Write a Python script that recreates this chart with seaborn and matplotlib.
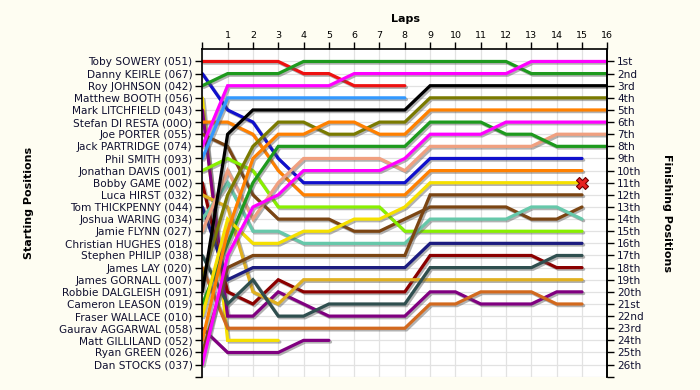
import seaborn as sns
import matplotlib
matplotlib.use("Agg")
import matplotlib.pyplot as plt
import matplotlib.patheffects as pe
import pandas as pd

# starting grid, top to bottom
drivers = ["Toby SOWERY (051)", "Danny KEIRLE (067)", "Roy JOHNSON (042)", "Matthew BOOTH (056)",
           "Mark LITCHFIELD (043)", "Stefan DI RESTA (00O)", "Joe PORTER (055)", "Jack PARTRIDGE (074)",
           "Phil SMITH (093)", "Jonathan DAVIS (001)", "Bobby GAME (002)", "Luca HIRST (032)",
           "Tom THICKPENNY (044)", "Joshua WARING (034)", "Jamie FLYNN (027)", "Christian HUGHES (018)",
           "Stephen PHILIP (038)", "James LAY (020)", "James GORNALL (007)", "Robbie DALGLEISH (091)",
           "Cameron LEASON (019)", "Fraser WALLACE (010)", "Gaurav AGGARWAL (058)", "Matt GILLILAND (052)",
           "Ryan GREEN (026)", "Dan STOCKS (037)"]

colours = ["#ee1111", "#1010cc", "#1e9a1e", "#f5e000", "#800080", "#ff8000", "#7b4513", "#ff00ff",
           "#3399ff", "#88f000", "#8b0000", "#e0b020", "#1c1c80", "#66c8aa", "#f0a080", "#888888",
           "#2f4f4f", "#d2691e", "#7a7a00", "#000000", "#1e9a1e", "#f5e000", "#800080", "#ff8000",
           "#7b4513", "#ff00ff"]

# position at end of each lap (lap 0 = grid)
sowery = [1, 1, 1, 1, 2, 2, 3, 3, 3]
keirle = [2, 5, 6, 9, 11, 11, 11, 11, 11, 9, 9, 9, 9, 9, 9, 9]
johnson = [3, 2, 2, 2, 1, 1, 1, 1, 1, 1, 1, 1, 1, 2, 2, 2, 2]
booth = [4, 24, 24, 24]
litchfield = [5, 22, 22, 20, 21, 22, 22, 22, 22, 20, 20, 21, 21, 21, 20, 20]
di_resta = [6, 6, 7, 10, 12, 12, 12, 12, 12, 10, 10, 10, 10, 10, 10, 10]
porter = [7, 8, 12, 14, 14, 14, 15, 15, 14, 13, 13, 13, 13, 14, 14, 13]
partridge = [8, 3, 3, 3, 3, 3, 2, 2, 2, 2, 2, 2, 2, 1, 1, 1, 1]
smith = [9, 4, 4, 4, 4, 4, 4, 4, 4]
davis = [10, 9, 10, 13, 13, 13, 13, 13, 15, 15, 15, 15, 15, 15, 15, 15]
game = [11, 20, 21, 19, 20, 20, 20, 20, 20, 17, 17, 17, 17, 17, 18, 18]
hirst = [12, 13, 20, 21, 19, 19, 19, 19, 19, 19, 19, 19, 19, 19, 19, 19]
thickpenny = [13, 19, 18, 18, 18, 18, 18, 18, 18, 16, 16, 16, 16, 16, 16, 16]
waring = [14, 11, 15, 15, 16, 16, 16, 16, 16, 14, 14, 14, 14, 13, 13, 14]
flynn = [15, 10, 14, 11, 9, 9, 9, 9, 10, 8, 8, 8, 8, 8, 7, 7, 7]
hughes = [16]
philip = [17, 21, 19, 22, 22, 21, 21, 21, 21, 18, 18, 18, 18, 18, 17, 17]
lay = [18, 23, 23, 23, 23, 23, 23, 23, 23, 21, 21, 20, 20, 20, 21, 21]
gornall = [19, 12, 8, 6, 6, 7, 7, 6, 6, 4, 4, 4, 4, 4, 4, 4, 4]
dalgleish = [20, 7, 5, 5, 5, 5, 5, 5, 5, 3, 3, 3, 3, 3, 3, 3, 3]
leason = [21, 16, 11, 8, 8, 8, 8, 8, 8, 6, 6, 6, 7, 7, 8, 8, 8]
wallace = [22, 14, 16, 16, 15, 15, 14, 14, 13, 11, 11, 11, 11, 11, 11, 11]
aggarwal = [23, 25, 25, 25, 24, 24]
gilliland = [24, 15, 9, 7, 7, 6, 6, 7, 7, 5, 5, 5, 5, 5, 5, 5, 5]
green = [25, 18, 17, 17, 17, 17, 17, 17, 17, 12, 12, 12, 12, 12, 12, 12]
stocks = [26, 17, 13, 12, 10, 10, 10, 10, 9, 7, 7, 7, 6, 6, 6, 6, 6]

positions = [sowery, keirle, johnson, booth, litchfield, di_resta, porter, partridge, smith, davis,
             game, hirst, thickpenny, waring, flynn, hughes, philip, lay, gornall, dalgleish,
             leason, wallace, aggarwal, gilliland, green, stocks]

finish_labels = ["1st", "2nd", "3rd"] + [f"{i}th" for i in range(4, 21)] + ["21st", "22nd", "23rd", "24th", "25th", "26th"]

# marker (red cross) on Fraser WALLACE
marker_lap = [15]
marker_pos = [11]

rows = []
for name, pos in zip(drivers, positions):
    for lap, p in enumerate(pos):
        rows.append({"driver": name, "lap": lap, "pos": p})
df = pd.DataFrame(rows)
df = df[df.groupby("driver")["lap"].transform("count") > 1]

sns.set_style("white")
plt.rcParams["font.family"] = ["DejaVu Sans"]
plt.rcParams["text.color"] = "black"
plt.rcParams["xtick.color"] = "black"
plt.rcParams["ytick.color"] = "black"

fig = plt.figure(figsize=(7, 3.9), dpi=100)
fig.patch.set_facecolor("#fefdf2")
ax = fig.add_axes([0.289, 0.034, 0.5786, 0.8395])
ax.set_facecolor("white")

sns.lineplot(data=df, x="lap", y="pos", hue="driver", palette=dict(zip(drivers, colours)),
             estimator=None, sort=False, legend=False, linewidth=2.3, ax=ax)
for ln in ax.lines:
    ln.set_solid_joinstyle("miter")
    ln.set_path_effects([pe.SimpleLineShadow(offset=(1.2, -1.2), shadow_color="#555555", alpha=0.45),
                         pe.Normal()])

ax.scatter(marker_lap, marker_pos, marker="X", s=75, color="#e82020", edgecolor="#700000",
           linewidth=0.8, zorder=5)

ax.set_xlim(0, 16)
ax.set_ylim(26.9, 0)
ax.set_xticks(range(0, 17))
ax.set_xticklabels([""] + [str(i) for i in range(1, 17)], fontsize=6.8, color="black")
ax.xaxis.tick_top()
ax.set_yticks(range(1, 28))
ax.set_yticklabels(drivers + [""], fontsize=7.6, color="#101030")
ax.tick_params(axis="both", direction="out", length=5, width=1, color="black", pad=2, left=True, top=True)
ax.grid(True, color="#e2e2e2", linewidth=0.9)
ax.set_axisbelow(True)
ax.set_xlabel("")
ax.set_ylabel("")
for side in ["left", "top", "right"]:
    ax.spines[side].set_visible(True)
    ax.spines[side].set_color("black")
    ax.spines[side].set_linewidth(1.2)
ax.spines["bottom"].set_visible(False)

ax2 = ax.twinx()
ax2.set_ylim(ax.get_ylim())
ax2.set_yticks(range(1, 28))
ax2.set_yticklabels(finish_labels + [""], fontsize=7.6, color="#101030")
ax2.tick_params(axis="y", direction="out", length=5, width=1, color="black", pad=2, right=True)
ax2.grid(False)
for side in ["left", "top", "bottom"]:
    ax2.spines[side].set_visible(False)
ax2.spines["right"].set_color("black")
ax2.spines["right"].set_linewidth(1.2)

fig.text(0.579, 0.951, "Laps", fontsize=8, fontweight="bold", ha="center", va="center", color="black")
fig.text(0.042, 0.48, "Starting Positions", fontsize=8, fontweight="bold", rotation=90,
         ha="center", va="center", color="black")
fig.text(0.953, 0.455, "Finishing Positions", fontsize=8, fontweight="bold", rotation=-90,
         ha="center", va="center", color="black")

fig.savefig("out.png", dpi=100, facecolor=fig.get_facecolor())
